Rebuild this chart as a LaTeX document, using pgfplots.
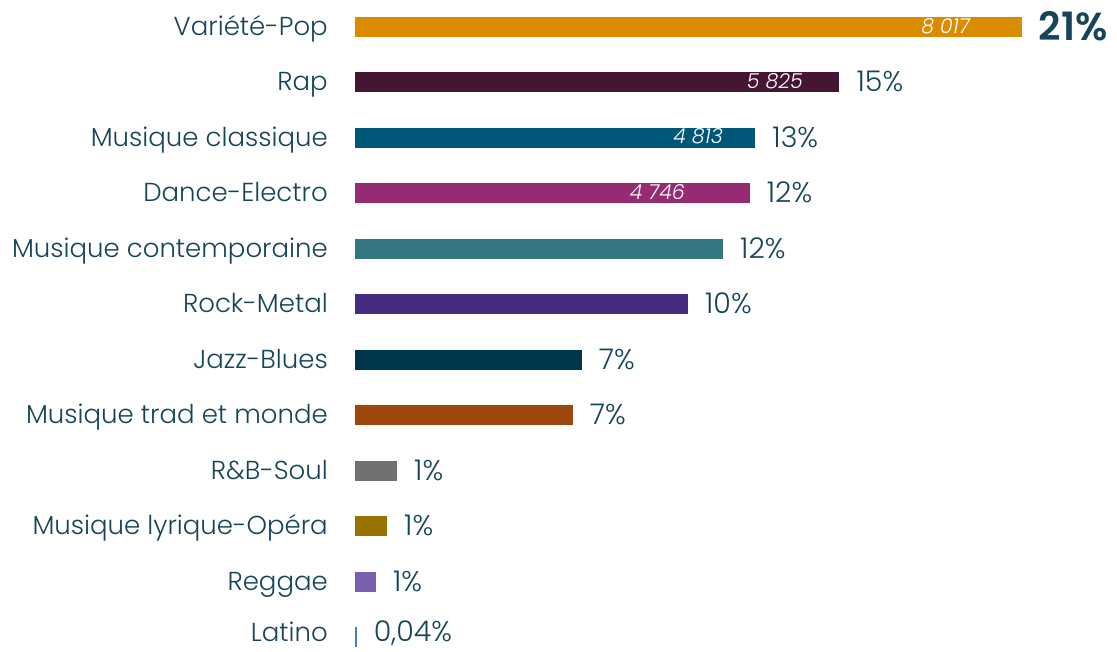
\documentclass[border=0pt]{standalone}
\usepackage{pgfplots}
\pgfplotsset{compat=1.18}
\usepackage{fontspec}
\setmainfont{Poppins}[UprightFont=* Light, ItalicFont=* Light Italic, BoldFont=* SemiBold]
\definecolor{txt}{HTML}{164559}
\definecolor{cA}{HTML}{DB8B00}
\definecolor{cB}{HTML}{441633}
\definecolor{cC}{HTML}{005677}
\definecolor{cD}{HTML}{952B72}
\definecolor{cE}{HTML}{357683}
\definecolor{cF}{HTML}{452C82}
\definecolor{cG}{HTML}{00364B}
\definecolor{cH}{HTML}{9E480E}
\definecolor{cI}{HTML}{707070}
\definecolor{cJ}{HTML}{997300}
\definecolor{cK}{HTML}{7A5FAB}
\definecolor{cL}{HTML}{4A7EBB}
\begin{document}
\begin{tikzpicture}
\begin{axis}[
  scale only axis, width=666.7pt, height=665.4pt,
  xmin=0, xmax=8017, ymin=-0.5, ymax=11.5, y dir=reverse,
  axis line style={draw=none}, tick style={draw=none},
  major tick length=0pt, clip=false,
  xtick=\empty, ytick={0,...,11},
  yticklabels={Variété-Pop,Rap,Musique classique,Dance-Electro,Musique contemporaine,Rock-Metal,Jazz-Blues,Musique trad et monde,R\&B-Soul,Musique lyrique-Opéra,Reggae,\raisebox{3.5pt}{Latino}},
  yticklabel style={font=\fontsize{26}{30}\selectfont, text=txt, anchor=base east, inner sep=0pt, xshift=-27pt, yshift=-8.5pt},
  xbar, bar width=20pt, bar shift=0pt,
  nodes near coords align={horizontal},
  every node near coord/.append style={anchor=base west, inner sep=0pt, xshift=17pt, yshift=-9.5pt, font=\fontsize{28.5}{32}\selectfont, text=txt},
]
\addplot[fill=cA, draw=none, nodes near coords={\textbf{21\%}}, every node near coord/.append style={font=\fontsize{39}{42}\selectfont, yshift=-4pt}] coordinates {(8017,0)};
\addplot[fill=cB, draw=none, nodes near coords={15\%}] coordinates {(5825,1)};
\addplot[fill=cC, draw=none, nodes near coords={13\%}] coordinates {(4813,2)};
\addplot[fill=cD, draw=none, nodes near coords={12\%}] coordinates {(4746,3)};
\addplot[fill=cE, draw=none, nodes near coords={12\%}] coordinates {(4425,4)};
\addplot[fill=cF, draw=none, nodes near coords={10\%}] coordinates {(4004,5)};
\addplot[fill=cG, draw=none, nodes near coords={7\%}] coordinates {(2726,6)};
\addplot[fill=cH, draw=none, nodes near coords={7\%}] coordinates {(2618,7)};
\addplot[fill=cI, draw=none, nodes near coords={1\%}] coordinates {(505,8)};
\addplot[fill=cJ, draw=none, nodes near coords={1\%}] coordinates {(385,9)};
\addplot[fill=cK, draw=none, nodes near coords={1\%}] coordinates {(252,10)};
\addplot[fill=cL, draw=none, nodes near coords={\raisebox{5pt}{0,04\%}}] coordinates {(20,11)};
\begin{scope}[every node/.style={anchor=base east, inner sep=0pt, text=white, font=\fontsize{20.5}{24}\selectfont\itshape}]
\node at (axis cs:7395,0) [yshift=-6pt] {8 017};
\node at (axis cs:5387,1) [yshift=-6pt] {5 825};
\node at (axis cs:4425,2) [yshift=-6pt] {4 813};
\node at (axis cs:3968,3) [yshift=-6pt] {4 746};
\end{scope}
\coordinate (bbtl) at (axis cs:-4268.8,-0.487);
\coordinate (bbbr) at (axis cs:9163,11.271);
\end{axis}
\pgfresetboundingbox
\useasboundingbox (bbtl) rectangle (bbbr);
\end{tikzpicture}
\end{document}
